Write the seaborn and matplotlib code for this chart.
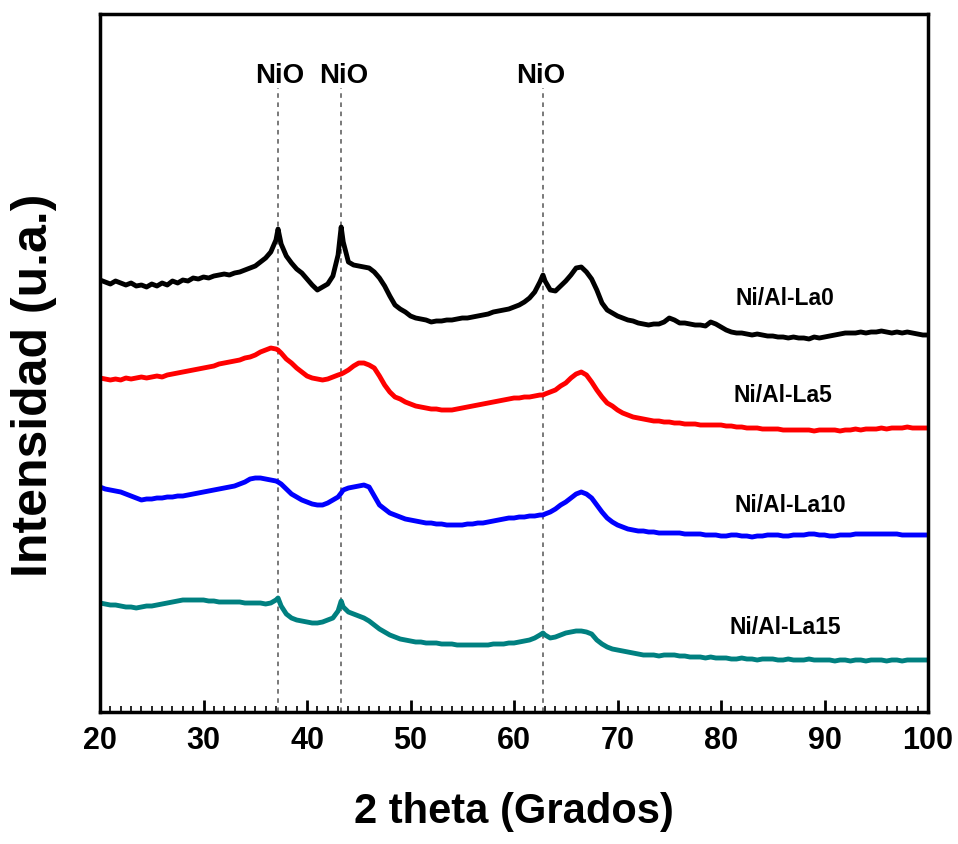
import numpy as np
import pandas as pd
import matplotlib
matplotlib.use('Agg')
import matplotlib.pyplot as plt
import seaborn as sns
from matplotlib.ticker import MultipleLocator

# 2 theta grid: every 0.5 deg plus the NiO peak positions
two_theta = np.sort(np.concatenate([np.round(np.arange(20, 100.01, 0.5), 1), [37.2, 43.3, 62.8]]))

# intensities (u.a.), offsets included
la0 = [432, 430, 428, 431, 429, 427, 429, 426, 427, 425,
       428, 426, 429, 427, 431, 429, 432, 431, 434, 433,
       435, 434, 436, 437, 438, 437, 439, 440, 442, 444,
       446, 450, 454, 460, 472, 483, 468, 456, 449, 443, 439,
       433, 427, 422, 425, 428, 436, 457, 485, 470, 450, 447,
       446, 445, 444, 440, 434, 426, 416, 407, 403, 400,
       396, 394, 393, 392, 390, 391, 391, 392, 392, 393,
       394, 394, 395, 396, 397, 398, 400, 401, 402, 403,
       405, 407, 410, 414, 420, 430, 437, 431, 422, 421, 426,
       431, 437, 444, 445, 440, 433, 422, 409, 402, 399,
       396, 394, 392, 391, 389, 388, 387, 388, 388, 390,
       394, 392, 389, 389, 388, 387, 387, 386, 390, 388,
       385, 382, 380, 379, 379, 378, 377, 378, 377, 376,
       376, 375, 375, 374, 375, 374, 374, 373, 375, 374,
       375, 376, 377, 378, 379, 379, 379, 380, 379, 380,
       380, 381, 380, 379, 380, 379, 380, 379, 378, 377,
       377]
la5 = [334, 333, 332, 333, 332, 334, 333, 334, 335, 334,
       335, 336, 335, 337, 338, 339, 340, 341, 342, 343,
       344, 345, 346, 348, 349, 350, 351, 352, 354, 355,
       357, 360, 362, 364, 363, 362, 359, 353, 349, 344, 340,
       336, 334, 333, 332, 333, 335, 337, 338, 339, 342, 346,
       349, 349, 347, 344, 336, 327, 320, 315, 313, 310,
       308, 306, 305, 304, 303, 303, 302, 302, 302, 303,
       304, 305, 306, 307, 308, 309, 310, 311, 312, 313,
       314, 314, 315, 315, 316, 317, 317, 318, 320, 322, 326,
       329, 334, 338, 340, 337, 330, 322, 315, 309, 306,
       302, 299, 297, 295, 294, 293, 292, 291, 291, 290,
       290, 289, 289, 288, 288, 288, 287, 287, 287, 287,
       287, 286, 286, 285, 285, 284, 284, 284, 283, 283,
       283, 283, 282, 282, 282, 282, 282, 282, 281, 282,
       282, 282, 282, 281, 282, 282, 283, 282, 283, 283,
       283, 284, 283, 284, 284, 284, 285, 284, 284, 284,
       284]
la10 = [225, 223, 222, 221, 220, 218, 216, 214, 212, 213,
        213, 214, 214, 215, 215, 216, 216, 217, 218, 219,
        220, 221, 222, 223, 224, 225, 226, 228, 230, 233,
        234, 234, 233, 232, 231, 230, 228, 223, 218, 215, 212,
        210, 208, 207, 207, 209, 212, 215, 219, 222, 224, 225,
        226, 227, 225, 216, 207, 203, 199, 197, 195, 193,
        192, 191, 190, 189, 189, 188, 188, 187, 187, 187,
        187, 188, 188, 189, 189, 190, 191, 192, 193, 194,
        194, 195, 195, 196, 196, 197, 197, 198, 200, 203, 207,
        210, 214, 218, 220, 218, 214, 207, 200, 194, 190,
        187, 185, 183, 182, 181, 181, 180, 180, 179, 179,
        179, 179, 179, 178, 178, 178, 178, 177, 177, 177,
        176, 176, 177, 177, 176, 176, 175, 176, 176, 177,
        177, 177, 176, 176, 177, 177, 177, 178, 178, 177,
        177, 176, 176, 177, 177, 177, 178, 178, 178, 178,
        178, 178, 178, 178, 178, 177, 177, 177, 177, 177,
        177]
la15 = [109, 108, 107, 107, 106, 105, 105, 104, 105, 106,
        106, 107, 108, 109, 110, 111, 112, 112, 112, 112,
        112, 111, 111, 110, 110, 110, 110, 110, 109, 109,
        109, 109, 108, 109, 112, 114, 106, 98, 94, 92, 91,
        90, 89, 89, 90, 92, 94, 101, 111, 105, 100, 98,
        96, 94, 91, 87, 83, 80, 77, 75, 73, 72,
        71, 70, 70, 69, 69, 69, 68, 68, 68, 67,
        67, 67, 67, 67, 67, 67, 68, 68, 68, 69,
        69, 70, 71, 72, 74, 77, 79, 77, 74, 75, 77,
        79, 80, 81, 81, 80, 78, 72, 68, 65, 63,
        62, 61, 60, 59, 58, 57, 57, 57, 56, 57,
        57, 57, 56, 56, 55, 55, 55, 54, 55, 54,
        54, 54, 53, 53, 54, 53, 53, 52, 53, 53,
        53, 52, 52, 53, 52, 52, 52, 53, 52, 52,
        52, 52, 51, 52, 52, 51, 52, 52, 51, 52,
        52, 52, 51, 52, 52, 51, 52, 52, 52, 52,
        52]

samples = ['Ni/Al-La0', 'Ni/Al-La5', 'Ni/Al-La10', 'Ni/Al-La15']
colors = ['#000000', '#ff0000', '#0000ff', '#008080']
label_x = [86.2, 86.0, 86.7, 86.2]
label_y = [414, 317, 207, 84]

nio_pos = [37.2, 43.3, 62.8]
nio_text_x = [37.4, 43.5, 62.6]

df = pd.DataFrame({'two_theta': np.tile(two_theta, 4),
                   'intensity': la0 + la5 + la10 + la15,
                   'sample': np.repeat(samples, len(two_theta))})

sns.set_style('ticks')
plt.rcParams['font.family'] = ['Liberation Sans', 'DejaVu Sans']
plt.rcParams['font.weight'] = 'bold'
plt.rcParams['text.color'] = 'black'
plt.rcParams['axes.labelcolor'] = 'black'
plt.rcParams['xtick.color'] = 'black'

fig = plt.figure(figsize=(9.58, 8.44), dpi=100)
ax = fig.add_axes([0.1044, 0.1564, 0.8643, 0.827])

sns.lineplot(data=df, x='two_theta', y='intensity', hue='sample', palette=colors,
             hue_order=samples, lw=3.5, legend=False, ax=ax, sort=False, estimator=None)

for p in nio_pos:
    ax.plot([p, p], [0, 624], color='#555555', lw=1.1, ls=(0, (3, 3)), zorder=0)
for tx in nio_text_x:
    ax.text(tx, 636, 'NiO', ha='center', va='center', fontsize=20, fontweight='bold')

for s, lx, ly in zip(samples, label_x, label_y):
    ax.text(lx, ly, s, ha='center', va='center', fontsize=16.5, fontweight='bold')

ax.set_xlim(20, 100)
ax.set_ylim(0, 698)
ax.set_yticks([])
ax.xaxis.set_major_locator(MultipleLocator(10))
ax.xaxis.set_minor_locator(MultipleLocator(1))
ax.tick_params(axis='x', which='major', direction='in', length=9, width=2, pad=10, labelsize=22)
ax.tick_params(axis='x', which='minor', direction='in', length=4, width=1.2)
for lab in ax.get_xticklabels():
    lab.set_fontweight('bold')
for sp in ax.spines.values():
    sp.set_linewidth(2.5)
    sp.set_color('black')

ax.set_xlabel('2 theta (Grados)', fontsize=30, fontweight='bold')
ax.set_ylabel('Intensidad (u.a.)', fontsize=36, fontweight='bold')
ax.xaxis.set_label_coords(0.5, -0.115)
ax.yaxis.set_label_coords(-0.052, 0.468)

fig.savefig('out.png', dpi=100)
